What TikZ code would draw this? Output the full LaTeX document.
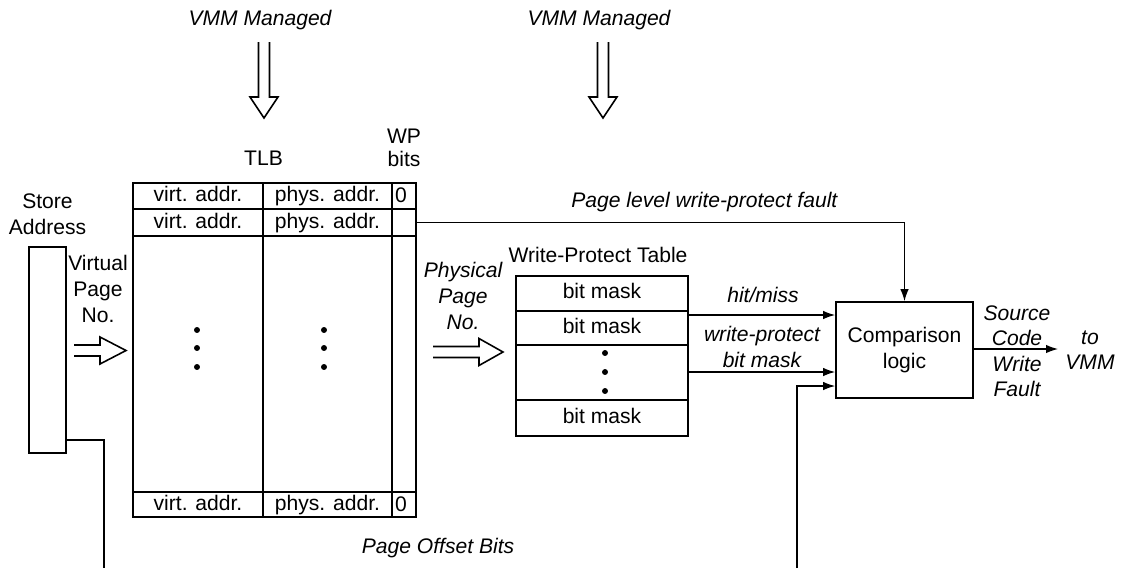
\documentclass[tikz,border=0pt]{standalone}
\usepackage{fontspec}
\setmainfont{Liberation Sans}
\usetikzlibrary{arrows.meta}

\tikzset{
  box/.style={draw, line width=1pt, inner sep=0pt},
  grid/.style={line width=0.6pt},
  sig/.style={line width=0.7pt},
  lbl/.style={align=center, inner sep=0pt},
  cell/.style={inner sep=0pt, text height=1.5ex, text depth=0.25ex},
  ilbl/.style={align=center, inner sep=0pt, font=\fontsize{12}{14.5}\selectfont\itshape},
  hollow/.style={line width=0.9pt, line join=miter},
}

\begin{document}
\begin{tikzpicture}[x=0.02cm, y=-0.02cm, >={Latex[length=2.4mm,width=1.7mm]},
    font=\fontsize{12}{14.5}\selectfont]
  \useasboundingbox (0,0) rectangle (1124,568);

  % ---------------- VMM managed inputs ----------------
  \foreach \ax/\nm in {264/vmmA, 603/vmmB} {
    \node[ilbl] (\nm) at (\ax-4,20) {VMM Managed};
    \draw[hollow] (\ax-5.5,42) -- (\ax-5.5,97) -- (\ax-14,97) -- (\ax,118)
      -- (\ax+14,97) -- (\ax+5.5,97) -- (\ax+5.5,42);
  }

  % ---------------- store address ----------------
  \node[lbl, font=\fontsize{12}{15}\selectfont] (stlbl) at (47.5,214) {Store\\Address};
  \node[box, minimum width=0.74cm, minimum height=4.12cm] (store) at (47.5,350) {};
  \node[lbl, font=\fontsize{12}{15}\selectfont] (vpn) at (98,289) {Virtual\\Page\\No.};

  % ---------------- TLB ----------------
  \node[cell] (tlblbl) at (263.5,160) {TLB};
  \node[lbl, font=\fontsize{12}{13.3}\selectfont] (wplbl) at (404,148) {WP\\bits};
  \node[box, minimum width=5.66cm, minimum height=6.68cm] (tlb) at (274.5,350) {};
  \foreach \cx in {263,392}
    \draw[grid] (\cx,183) -- (\cx,517);
  \foreach \ry in {209,236,492}
    \draw[grid] (133,\ry) -- (416,\ry);
  \foreach \ry/\id in {196/1, 222.5/2, 504.5/3} {
    \node[cell] (v\id) at (198,\ry) {virt. addr.};
    \node[cell] (p\id) at (327.5,\ry) {phys. addr.};
  }
  \node[cell] (wp1) at (401,197) {0};
  \node[cell] (wp3) at (401,505.5) {0};
  \foreach \dx in {197,324}
    \foreach \dy in {330,348,367}
      \fill (\dx,\dy) circle (1.7pt);

  % ---------------- write-protect table ----------------
  \node[cell] (wptlbl) at (598,257) {Write-Protect Table};
  \node[ilbl, font=\fontsize{12}{15}\selectfont\itshape] (ppn) at (463,296) {Physical\\Page\\No.};
  \node[box, minimum width=3.44cm, minimum height=3.2cm] (wpt) at (602,356) {};
  \foreach \ry in {311,345,400}
    \draw[grid] (516,\ry) -- (688,\ry);
  \foreach \ry/\id in {293/1, 328/2, 418/3}
    \node[cell] (m\id) at (602,\ry) {bit mask};
  \foreach \dy in {353,372,391}
    \fill (605,\dy) circle (1.7pt);

  % hollow arrows into TLB and table
  \foreach \sx/\hx/\tx/\cy in {74/100/126/350.5, 433/479/503/352}
    \draw[hollow] (\sx,\cy-5.5) -- (\hx,\cy-5.5) -- (\hx,\cy-13.5) -- (\tx,\cy)
      -- (\hx,\cy+13.5) -- (\hx,\cy+5.5) -- (\sx,\cy+5.5);

  % ---------------- comparison logic ----------------
  \node[box, minimum width=2.74cm, minimum height=1.92cm, align=center] (cmp)
    at (904.5,350) {Comparison\\logic};
  \coordinate (offA) at (104,568);
  \coordinate (offB) at (797,568);
  \coordinate (vmmout) at (1058,349);

  \draw[sig] (store.east |- 0,440) -| (offA);
  \draw[sig, ->] (tlb.east |- p2) -| (cmp.north);
  \draw[sig, ->] (wpt.east |- 0,315) -- (cmp.west |- 0,315);
  \draw[sig, ->] (wpt.east |- 0,372) -- (cmp.west |- 0,372);
  \draw[sig, ->] (offB) |- (cmp.west |- 0,386);
  \draw[sig, ->] (cmp.east |- vmmout) -- (vmmout);

  \node[ilbl, anchor=west] (pfault) at (571,202) {Page level write-protect fault};
  \node[ilbl] (hm) at (763,295) {hit/miss};
  \node[ilbl] (wpbm) at (762,347) {write-protect\\bit mask};
  \node[ilbl] (scwf) at (1017,351) {Source\\Code\\Write\\Fault};
  \node[ilbl] (tovmm) at (1090,350) {to\\VMM};
  \node[ilbl] (pob) at (438,548) {Page Offset Bits};
\end{tikzpicture}
\end{document}
